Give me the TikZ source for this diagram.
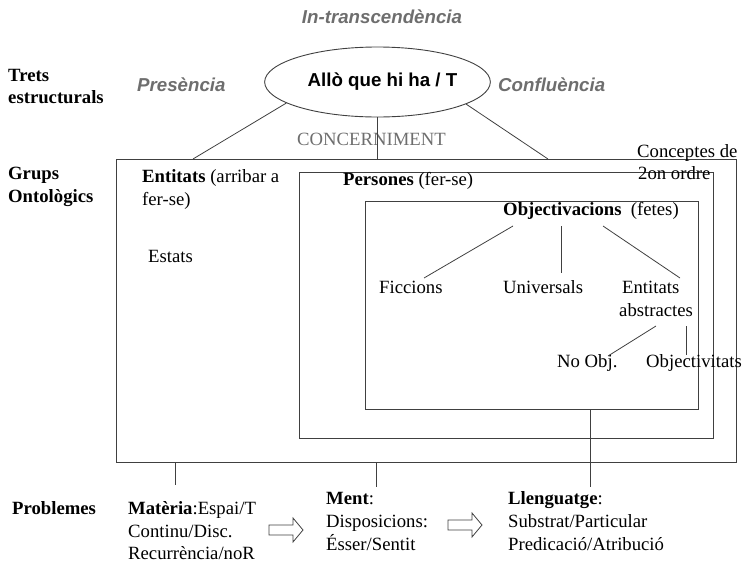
\documentclass[tikz,border=0pt]{standalone}
\usepackage{fontspec}
\setmainfont{Liberation Serif}
\newfontfamily\sansf{Liberation Sans}
\usetikzlibrary{shapes.geometric}
\definecolor{lab}{HTML}{6E6E6E}
\definecolor{ln}{HTML}{404040}
\tikzset{
 txt/.style={anchor=base west, inner sep=0pt, font=\fontsize{18.7}{22}\selectfont},
 ital/.style={anchor=base west, inner sep=0pt, text=lab, font=\sansf\fontsize{18.7}{22}\selectfont\bfseries\itshape},
 frame/.style={draw=ln, line width=0.9pt, anchor=north west, inner sep=0pt},
 link/.style={draw=ln, line width=0.8pt},
 blockarrow/.style={draw=ln, line width=0.8pt, fill=white},
}
\begin{document}
\begin{tikzpicture}[x=1pt,y=-1pt]
\path[use as bounding box] (0,0) rectangle (742,563);

% boxes
\node[frame, minimum width=620pt, minimum height=303pt] (outer) at (116,159) {};
\node[frame, minimum width=414pt, minimum height=266pt] (pers) at (299,172) {};
\node[frame, minimum width=333pt, minimum height=208pt] (obj) at (365,201) {};

% ellipse
\node[ellipse, draw=ln, line width=0.9pt, minimum width=179pt, minimum height=70pt, inner sep=0pt,
      font=\sansf\fontsize{18.7}{22}\selectfont\bfseries] (el) at (377.5,82) {\hspace*{10pt}Allò que hi ha / T};

% top labels
\node[ital, anchor=base] (intr) at (382,23) {In-transcendència};
\node[ital] (pres) at (137,91) {Presència};
\node[ital] (conf) at (498,91) {Confluència};
\node[txt, text=lab] (conc) at (297,145) {CONCERNIMENT};

% left column
\node[txt, font=\fontsize{18.7}{22}\selectfont\bfseries] (trets1) at (8,81) {Trets};
\node[txt, font=\fontsize{18.7}{22}\selectfont\bfseries] (trets2) at (8,103) {estructurals};
\node[txt, font=\fontsize{18.7}{22}\selectfont\bfseries] (grups1) at (8,179) {Grups};
\node[txt, font=\fontsize{18.7}{22}\selectfont\bfseries] (grups2) at (8,202) {Ontològics};
\node[txt, font=\fontsize{18.7}{22}\selectfont\bfseries] (probl) at (12,514) {Problemes};

% connectors from ellipse
\coordinate (t1) at (193,159);
\coordinate (t2) at (377.5,159);
\coordinate (t3) at (548,159);
\draw[link] (el.193) -- (t1);
\draw[link] (el.south) -- (t2);
\draw[link] (el.346) -- (t3);

% inside texts
\node[txt] (ent1) at (142,182) {\textbf{Entitats} (arribar a};
\node[txt] (ent2) at (142,205) {fer-se)};
\node[txt] (estats) at (148,262) {Estats};
\node[txt] (persl) at (343,185) {\textbf{Persones} (fer-se)};
\node[txt] (objl) at (503,215) {\textbf{Objectivacions}\ \ (fetes)};
\node[txt] (fic) at (379,293) {Ficcions};
\node[txt] (univ) at (503,293) {Universals};
\node[txt] (ea1) at (622,293) {Entitats};
\node[txt] (ea2) at (619,316) {abstractes};
\node[txt] (noobj) at (557,367) {No Obj.};
\node[txt] (objv) at (646,367) {Objectivitats};
\node[txt] (c2a) at (637,157) {Conceptes de};
\node[txt] (c2b) at (638,179) {2on ordre};

% tree lines
\coordinate (o1) at (513,226); \coordinate (f1) at (424,278);
\coordinate (o2) at (561,226); \coordinate (u1) at (561,273);
\coordinate (o3) at (603,226); \coordinate (e1) at (680,278);
\coordinate (a1) at (656,326); \coordinate (n1) at (608,356);
\coordinate (a2) at (686,326); \coordinate (v1) at (686,355);
\draw[link] (o1) -- (f1);
\draw[link] (o2) -- (u1);
\draw[link] (o3) -- (e1);
\draw[link] (a1) -- (n1);
\draw[link] (a2) -- (v1);

% bottom connectors
\coordinate (b1) at (175,462); \coordinate (b1e) at (175,485);
\coordinate (b2) at (376,462); \coordinate (b2e) at (376,487);
\coordinate (b3) at (590,409); \coordinate (b3e) at (590,487);
\draw[link] (b1) -- (b1e);
\draw[link] (b2) -- (b2e);
\draw[link] (b3) -- (b3e);

% problems texts
\node[txt] (mat1) at (128,514) {\textbf{Matèria}:Espai/T};
\node[txt] (mat2) at (128,537) {Continu/Disc.};
\node[txt] (mat3) at (128,559) {Recurrència/noR};
\node[txt] (ment1) at (326,504) {\textbf{Ment}:};
\node[txt] (ment2) at (326,527) {Disposicions:};
\node[txt] (ment3) at (326,550) {Ésser/Sentit};
\node[txt] (ll1) at (508,504) {\textbf{Llenguatge}:};
\node[txt] (ll2) at (508,527) {Substrat/Particular};
\node[txt] (ll3) at (508,550) {Predicació/Atribució};

% block arrows
\draw[blockarrow] (269,525) -- (293,525) -- (293,518) -- (303,530) -- (293,542) -- (293,535) -- (269,535) -- cycle;
\draw[blockarrow] (448,520) -- (472,520) -- (472,513) -- (482,525) -- (472,537) -- (472,530) -- (448,530) -- cycle;
\end{tikzpicture}
\end{document}
